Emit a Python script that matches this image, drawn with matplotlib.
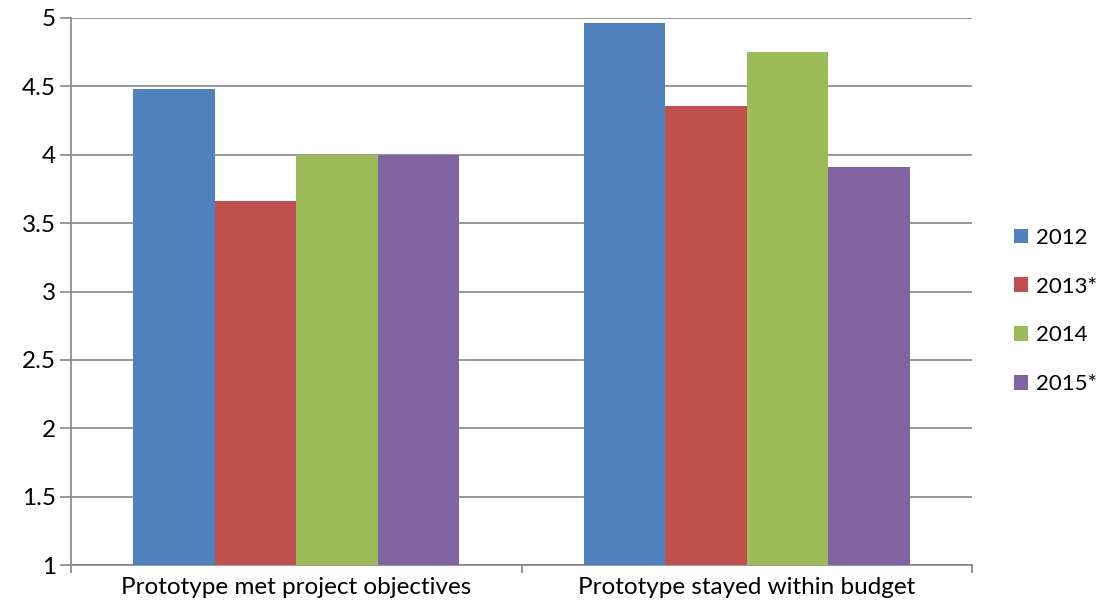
import numpy as np
import matplotlib
matplotlib.use('Agg')
import matplotlib.pyplot as plt
from matplotlib.patches import Patch

plt.rcParams['font.family'] = ['Lato', 'DejaVu Sans']

categories = ['Prototype met project objectives', 'Prototype stayed within budget']
series_names = ['2012', '2013*', '2014', '2015*']
vals_2012 = [4.48, 4.96]
vals_2013 = [3.66, 4.36]
vals_2014 = [4.00, 4.75]
vals_2015 = [4.00, 3.91]
colors = ['#4F81BD', '#C0504D', '#9BBB59', '#8064A2']

FS = 17.5

fig = plt.figure(figsize=(11.05, 6.12), dpi=100)
ax = fig.add_axes([71 / 1105, 1 - 565 / 612, (972 - 71) / 1105, (565 - 18) / 612])

x = np.arange(len(categories))
w = 0.181
all_vals = [vals_2012, vals_2013, vals_2014, vals_2015]
for i, (vals, c) in enumerate(zip(all_vals, colors)):
    ax.bar(x + (i - 1.5) * w, np.array(vals) - 1, bottom=1, width=w, color=c, zorder=3)

ax.set_xlim(-0.5, 1.5)
ax.set_ylim(1, 5)
ax.set_yticks(np.arange(1, 5.01, 0.5))
ax.set_yticklabels(['1', '1.5', '2', '2.5', '3', '3.5', '4', '4.5', '5'])
ax.yaxis.grid(True, color='#868686', lw=1.2)
ax.set_axisbelow(True)

ax.set_xticks([-0.5, 0.5, 1.5])
ax.set_xticklabels([])
ax.set_xticks(x, minor=True)
ax.set_xticklabels(categories, minor=True)
ax.tick_params(axis='x', which='minor', length=0, pad=9, labelsize=FS)
ax.tick_params(axis='x', which='major', length=6, color='#868686', width=1.2)
ax.tick_params(axis='y', length=8, color='#868686', width=1.2, labelsize=FS, pad=3)

for s in ['top', 'right']:
    ax.spines[s].set_visible(False)
for s in ['left', 'bottom']:
    ax.spines[s].set_color('#868686')
    ax.spines[s].set_linewidth(1.2)

handles = [Patch(facecolor=c, label=n) for c, n in zip(colors, series_names)]
fig.legend(handles=handles, loc='center left', bbox_to_anchor=(1014 / 1105, 1 - 311 / 612),
           frameon=False, fontsize=16, labelspacing=1.3, handlelength=0.63,
           handleheight=0.63, handletextpad=0.36, borderpad=0, borderaxespad=0)

fig.savefig('out.png', dpi=100)
